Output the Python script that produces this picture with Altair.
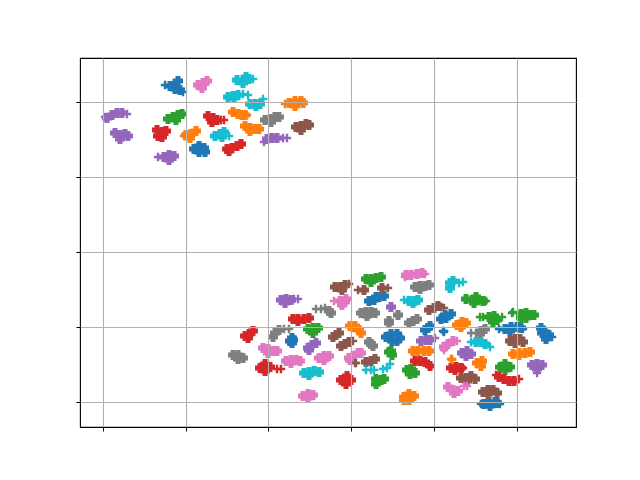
import altair as alt
import pandas as pd

X_TICKS = [0, 83, 165, 248, 331, 414]
Y_TICKS = [0, 75, 150, 225, 300]
X_RANGE = [-23, 473]
Y_RANGE = [-25, 344]

BLUE = [(67,316),(72,318),(75,321),(77,312),(72,313),
        (91,253),(96,256),(101,254),(96,250),(102,250),
        (266,101),(271,102),(276,105),(281,106),(273,105),
        (189,64),(187,61),(190,62),(189,59),
        (283,65),(288,68),(294,68),(297,64),(289,61),(294,61),
        (338,83),(343,84),(348,88),(342,87),
        (402,73),(408,75),(414,75),(418,74),(407,71),
        (322,72),(325,74),(327,76),
        (438,74),(442,70),(446,67),(443,63),(439,69),
        (381,-2),(386,0),(392,0),(387,-4),(394,-1)]
BLUE_FINE = [(340,71),(341,71),(341,70),(62,317),(80,310),(396,73),(420,73),(449,65),(378,-2),(397,-2)]

ORANGE = [(186,299),(192,301),(198,301),(192,296),(200,299),
          (130,290),(135,288),(139,287),(142,287),
          (83,267),(88,268),(93,271),(87,264),
          (142,276),(147,274),(152,273),(156,273),(147,271),
          (247,76),(252,76),(256,72),(258,69),(250,75),
          (354,77),(358,75),(363,79),(359,80),
          (310,51),(315,51),(321,51),(326,51),
          (410,48),(416,49),(422,49),(427,50),(416,47),
          (374,39),(379,41),(378,36),
          (301,5),(306,8),(311,6),(306,2),(301,2)]
ORANGE_FINE = [(349,43),(348,43),(349,42),(144,287),(182,298),(81,266)]

GREEN = [(65,283),(70,285),(75,287),(79,288),(73,282),
         (263,123),(268,123),(273,124),(278,125),(268,120),
         (205,73),(210,74),(215,74),(210,69),
         (286,50),(288,51),(289,47),
         (273,23),(278,22),(273,18),(281,23),
         (363,103),(369,102),(375,102),(380,101),(371,99),(373,105),
         (386,85),(391,86),(394,82),(390,80),
         (418,88),(423,89),(428,87),(423,84),(418,84),(431,87),
         (397,35),(402,38),(407,35),(402,32),
         (304,32),(308,33),(312,29),(307,28)]
GREEN_FINE = [(380,85),(377,85),(410,90),(409,89),(399,85),(383,101)]

RED = [(105,286),(110,284),(114,282),(109,280),
       (54,272),(59,270),(63,271),(55,266),(59,265),
       (124,253),(129,254),(134,256),(138,258),(126,251),
       (190,83),(195,83),(201,83),(206,84),(195,81),
       (142,66),(146,68),(150,71),(145,64),
       (157,34),(162,35),(167,35),(162,31),(162,38),
       (238,22),(243,23),(248,22),(243,18),(244,26),
       (312,41),(317,41),(322,40),(327,36),
       (348,34),(353,35),(358,34),(352,32),
       (396,25),(401,23),(406,21),(411,21)]
RED_FINE = [(121,282),(118,282),(174,33),(178,33),(416,23),(393,27),(360,34)]

PURPLE = [(4,284),(9,287),(14,289),(19,289),
          (12,269),(17,267),(22,268),(17,263),(25,266),
          (164,263),(169,264),(174,264),
          (61,245),(66,247),(71,246),(66,242),
          (178,102),(183,103),(188,102),(182,99),
          (288,95),
          (205,54),(209,57),(213,59),(206,52),
          (318,61),(323,62),(327,62),
          (359,49),(364,51),(368,48),(363,46),
          (429,37),(434,38),(439,37),(434,33)]
PURPLE_FINE = [(24,288),(2,285),(180,264),(184,264),(161,260),(55,245),(195,103),(191,103),(332,64),(434,29)]

BROWN = [(193,275),(198,276),(203,278),(206,277),(198,272),
         (232,115),(237,115),(242,117),(239,112),
         (261,112),(279,114),
         (230,65),(233,67),(236,69),
         (238,56),(242,58),(246,60),
         (263,40),(268,41),(272,43),
         (326,92),(331,94),(335,96),
         (407,61),(412,63),(417,63),(420,60),(412,59),
         (358,24),(363,24),(368,26),(372,23),(364,21),
         (380,10),(385,12),(390,12),(394,9),(385,8)]
BROWN_FINE = [(246,118),(250,61),(253,39),(252,39),(338,95),(341,94),(255,112),(285,114)]

PINK = [(95,317),(100,319),(104,321),(99,314),
        (237,101),(242,100),(239,97),(243,103),
        (160,54),(165,53),(170,51),(174,51),(165,49),
        (216,44),(221,46),(226,46),(221,42),
        (246,44),(250,46),(255,49),(258,49),(247,42),
        (183,41),(188,42),(193,42),(197,41),(188,39),
        (200,6),(205,8),(210,7),(205,4),
        (303,127),(308,127),(314,128),(319,129),
        (341,55),(345,58),(350,61),
        (345,15),(350,12),(355,11),(351,9)]
PINK_FINE = [(231,101),(354,61),(341,52),(361,16),(364,16),(302,125),(322,128)]

GRAY = [(162,282),(167,283),(172,285),(176,285),(168,280),
        (226,91),(228,89),
        (258,89),(263,90),(268,90),(272,89),(264,86),
        (295,87),
        (286,81),(286,79),
        (306,79),(310,81),(314,83),
        (170,65),(172,69),(176,72),
        (266,60),(268,58),(270,56),
        (130,47),(135,47),(140,44),(135,43),
        (312,115),(317,116),(322,116),(326,117),(317,113),
        (378,71),(382,73),(377,68)]
GRAY_FINE = [(213,93),(218,93),(222,94),(181,73),(186,73),(368,69),(373,69)]

CYAN = [(134,322),(140,322),(146,323),(140,319),(143,325),
        (125,305),(130,306),(135,307),(131,304),
        (147,298),(152,298),(157,298),(153,296),
        (112,266),(117,268),(121,270),(119,265),
        (201,29),(206,30),(211,31),(216,30),(206,27),
        (347,119),(347,114),(350,121),
        (306,101),(311,101),(315,102),(310,99),
        (373,60),(378,60),(382,58)]
CYAN_FINE = [(150,323),(140,308),(145,307),(160,303),(126,266),(263,32),(268,32),(271,32),
             (280,33),(284,34),(287,38),(356,119),(360,120),(301,102),(387,55),(368,60)]

SERIES = ["blue", "orange", "green", "red", "purple", "brown", "pink", "gray", "cyan"]
COLOURS = ["#1f77b4", "#ff7f0e", "#2ca02c", "#d62728", "#9467bd", "#8c564b", "#e377c2", "#7f7f7f", "#17becf"]

CORE = [BLUE, ORANGE, GREEN, RED, PURPLE, BROWN, PINK, GRAY, CYAN]
FINE = [BLUE_FINE, ORANGE_FINE, GREEN_FINE, RED_FINE, PURPLE_FINE, BROWN_FINE, PINK_FINE, GRAY_FINE, CYAN_FINE]


def table(groups):
    return pd.DataFrame(
        [{"x": x, "y": y, "s": name} for name, pts in zip(SERIES, groups) for x, y in pts]
    )


PLUS = "M-1,0H1M0,-1V1"
x = alt.X("x:Q", title=None, scale=alt.Scale(domain=X_RANGE, nice=False, zero=False),
          axis=alt.Axis(values=X_TICKS, labels=False, grid=True, gridColor="#b0b0b0", gridWidth=1.1,
                        tickColor="black", tickSize=4, tickWidth=1, domain=False, zindex=1))
y = alt.Y("y:Q", title=None, scale=alt.Scale(domain=Y_RANGE, nice=False, zero=False),
          axis=alt.Axis(values=Y_TICKS, labels=False, grid=True, gridColor="#b0b0b0", gridWidth=1.1,
                        tickColor="black", tickSize=4, tickWidth=1, domain=False, zindex=1))
color = alt.Color("s:N", legend=None, scale=alt.Scale(domain=SERIES, range=COLOURS))

core = alt.Chart(table(CORE)).mark_point(shape=PLUS, filled=False, size=100, strokeWidth=5, opacity=1).encode(
    x=x, y=y, color=color)
fine = alt.Chart(table(FINE)).mark_point(shape=PLUS, filled=False, size=70, strokeWidth=2.4, opacity=1).encode(
    x=x, y=y, color=color)

chart = (core + fine).properties(
    width=496, height=369,
    padding={"left": 72, "top": 50, "right": 20, "bottom": 20},
    autosize=alt.AutoSizeParams(type="none"),
    background="white",
).configure_view(stroke="black", strokeWidth=1.1)

chart.save("out.html", embed_options={"renderer": "svg", "actions": False})
